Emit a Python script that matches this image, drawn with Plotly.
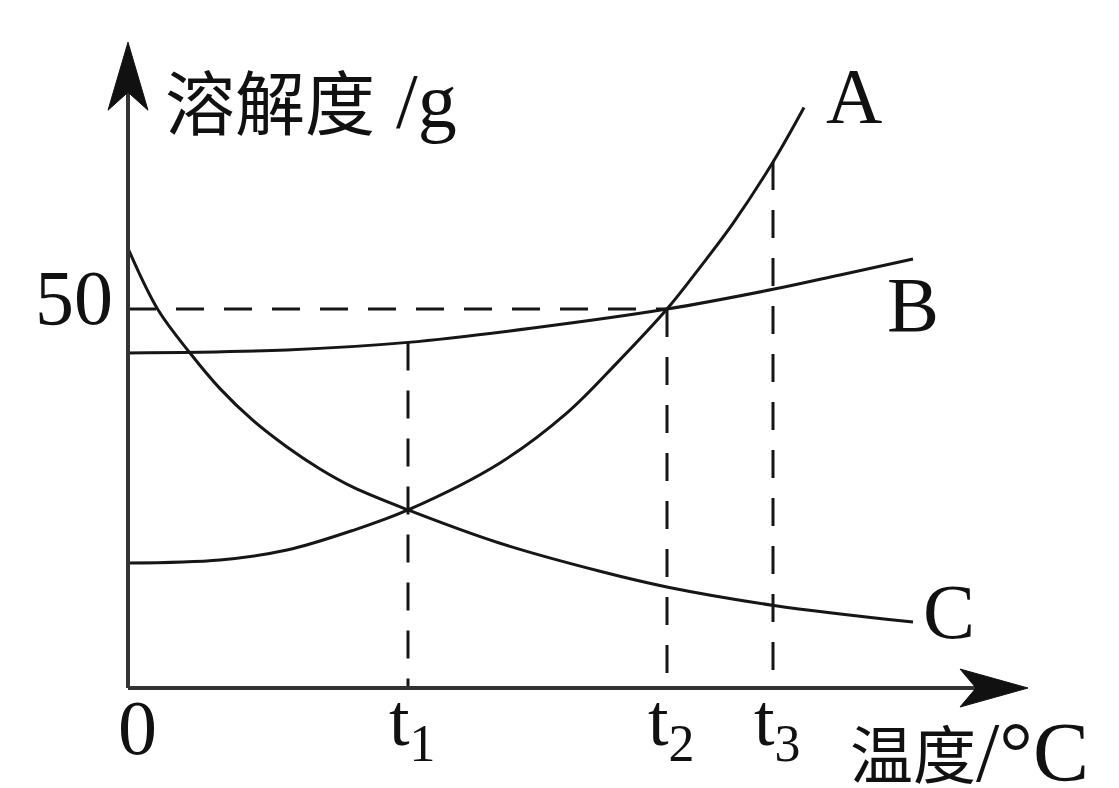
import numpy as np
import plotly.graph_objects as go

# ---- data (temperature in arbitrary units, solubility in g) ----
temp_A = [0, 9.2, 15.9, 22.5, 28.0, 37.2, 43.9, 48.9, 53.9, 57.2, 60.5, 64.5, 67.6]
sol_A = [16.5, 16.9, 18.2, 20.8, 23.5, 29.7, 36.3, 42.9, 50.0, 55.5, 61.3, 69.4, 76.6]

temp_B = [0, 15.9, 28.0, 40.5, 53.9, 64.5, 71.2, 78.5]
sol_B = [44.2, 44.6, 45.6, 47.5, 50.0, 52.6, 54.5, 56.6]

temp_C = [0, 3.0, 6.2, 9.2, 12.5, 15.9, 19.2, 22.5, 28.0, 37.2, 47.2, 54.0, 64.6, 78.5]
sol_C = [58.0, 49.9, 44.2, 39.5, 35.3, 31.8, 28.9, 26.5, 23.5, 19.1, 15.4, 13.3, 10.9, 8.7]

t_values = [28.0, 53.9, 64.5]
t_labels = ["t<sub>1</sub>", "t<sub>2</sub>", "t<sub>3</sub>"]
y_tick_value = 50
curve_names = ["A", "B", "C"]

x_range = [-12.8, 99.1]
y_range = [-13.19, 90.77]
x_axis_end = 90.0
y_axis_end = 85.2

INK = "#161616"
AXIS = "#333333"
SERIF = "Liberation Serif"
CJK = "Noto Sans CJK SC"
W, H = 1119, 788

fig = go.Figure()
for xs, ys in [(temp_A, sol_A), (temp_B, sol_B), (temp_C, sol_C)]:
    fig.add_trace(go.Scatter(x=xs, y=ys, mode="lines",
                             line=dict(color=INK, width=3, shape="spline", smoothing=1.0),
                             hoverinfo="skip", showlegend=False))

dash = "28px,20px"
fig.add_shape(type="line", x0=0, x1=t_values[1], y0=y_tick_value, y1=y_tick_value,
              line=dict(color=INK, width=3, dash=dash))
tops = [float(np.interp(t_values[0], temp_B, sol_B)),
        y_tick_value,
        float(np.interp(t_values[2], temp_A, sol_A))]
for t, top in zip(t_values, tops):
    fig.add_shape(type="line", x0=t, x1=t, y0=top, y1=0,
                  line=dict(color=INK, width=3, dash=dash))

# axes lines
fig.add_shape(type="line", x0=0, x1=x_axis_end - 5, y0=0, y1=0, line=dict(color=AXIS, width=4))
fig.add_shape(type="line", x0=0, x1=0, y0=0, y1=y_axis_end - 5, line=dict(color=AXIS, width=4))
# arrowheads (pixel-sized paths anchored at the axis ends)
fig.add_shape(type="path", xsizemode="pixel", ysizemode="pixel",
              xanchor=0, yanchor=y_axis_end,
              path="M0,0 L-20,-68 L0,-50 L20,-68 Z",
              fillcolor="#111", line=dict(color="#111", width=1))
fig.add_shape(type="path", xsizemode="pixel", ysizemode="pixel",
              xanchor=x_axis_end, yanchor=0,
              path="M0,0 L-68,19 L-52,0 L-68,-19 Z",
              fillcolor="#111", line=dict(color="#111", width=1))


def px_ann(text, px, py, size, family, xanchor="left"):
    return dict(x=px / W, y=1 - py / H, xref="paper", yref="paper",
                xanchor=xanchor, yanchor="middle", showarrow=False,
                text=text, font=dict(size=size, color="#111", family=family))


ann = []
# y axis title
ann.append(px_ann("溶解度", 163, 99, 70, CJK))
ann.append(px_ann("/g", 394, 100, 78, SERIF))
# x axis title
ann.append(px_ann("温度", 848, 750, 63, CJK))
ann.append(px_ann("/°C", 974, 752, 84, SERIF))
# 50 label
ann.append(dict(x=0, y=y_tick_value, xref="x", yref="y", xanchor="right", yanchor="middle",
                xshift=-13, yshift=12, showarrow=False, text=str(y_tick_value),
                font=dict(size=78, color="#111", family=SERIF)))
# 0 label
ann.append(dict(x=0, y=1 - 727 / H, xref="x", yref="paper", xanchor="center", yanchor="middle",
                xshift=9, showarrow=False, text="0",
                font=dict(size=78, color="#111", family=SERIF)))
# t labels
for t, lab in zip(t_values, t_labels):
    ann.append(dict(x=t, y=1 - 725 / H, xref="x", yref="paper", xanchor="center", yanchor="middle",
                    xshift=4, showarrow=False, text=lab,
                    font=dict(size=74, color="#111", family=SERIF)))
# curve labels
ends = [(temp_A[-1], sol_A[-1], 50, 12), (temp_B[-1], sol_B[-1], 0, -45), (temp_C[-1], sol_C[-1], 36, 11)]
for name, (ex, ey, dx, dy) in zip(curve_names, ends):
    ann.append(dict(x=ex, y=ey, xref="x", yref="y", xanchor="center", yanchor="middle",
                    xshift=dx, yshift=dy, showarrow=False, text=name,
                    font=dict(size=78, color="#111", family=SERIF)))

fig.update_layout(
    width=W, height=H, autosize=False,
    margin=dict(l=0, r=0, t=0, b=0),
    paper_bgcolor="white", plot_bgcolor="white",
    xaxis=dict(range=x_range, visible=False, fixedrange=True),
    yaxis=dict(range=y_range, visible=False, fixedrange=True),
    annotations=ann,
    showlegend=False,
)

fig.write_html("out.html", config={"displayModeBar": False},
               post_script="document.body.style.margin='0';document.body.style.overflow='hidden';")
